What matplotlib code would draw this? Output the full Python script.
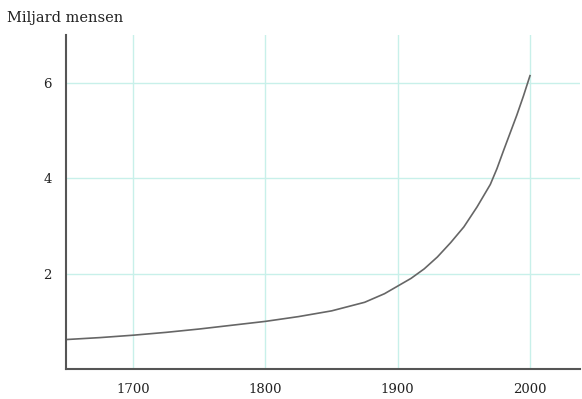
import numpy as np
import matplotlib.pyplot as plt

# wereldbevolking (miljard)
years = [1650, 1675, 1700, 1725, 1750, 1775, 1800, 1825, 1850, 1875, 1890, 1900,
         1910, 1920, 1930, 1940, 1950, 1960, 1970, 1975, 1980, 1985, 1990, 1995, 2000]
population = [0.62, 0.66, 0.71, 0.77, 0.84, 0.92, 1.0, 1.1, 1.22, 1.4, 1.58, 1.74,
              1.9, 2.1, 2.35, 2.65, 2.98, 3.4, 3.87, 4.2, 4.58, 4.95, 5.32, 5.72, 6.15]

xticks = [1700, 1800, 1900, 2000]
yticks = [2, 4, 6]

plt.rcParams['font.family'] = ['DejaVu Serif']

fig = plt.figure(figsize=(5.82, 3.99), dpi=100)
ax = fig.add_axes([0.113, 0.075, 0.884, 0.837])

ax.plot(years, population, color='#666666', linewidth=1.2)

ax.set_xlim(1649, 2038)
ax.set_ylim(0, 7)
ax.set_xticks(xticks)
ax.set_yticks(yticks)
ax.tick_params(length=0, labelsize=9.5, colors='#222222', pad=10)
ax.grid(True, color='#c8f0ea', linewidth=1.0)
ax.set_axisbelow(True)

for s in ['top', 'right']:
    ax.spines[s].set_visible(False)
for s in ['left', 'bottom']:
    ax.spines[s].set_color('#555555')
    ax.spines[s].set_linewidth(1.5)

fig.text(0.012, 0.955, 'Miljard mensen', fontsize=10.5, color='#222222', va='center')

fig.savefig('out.png', dpi=100)
